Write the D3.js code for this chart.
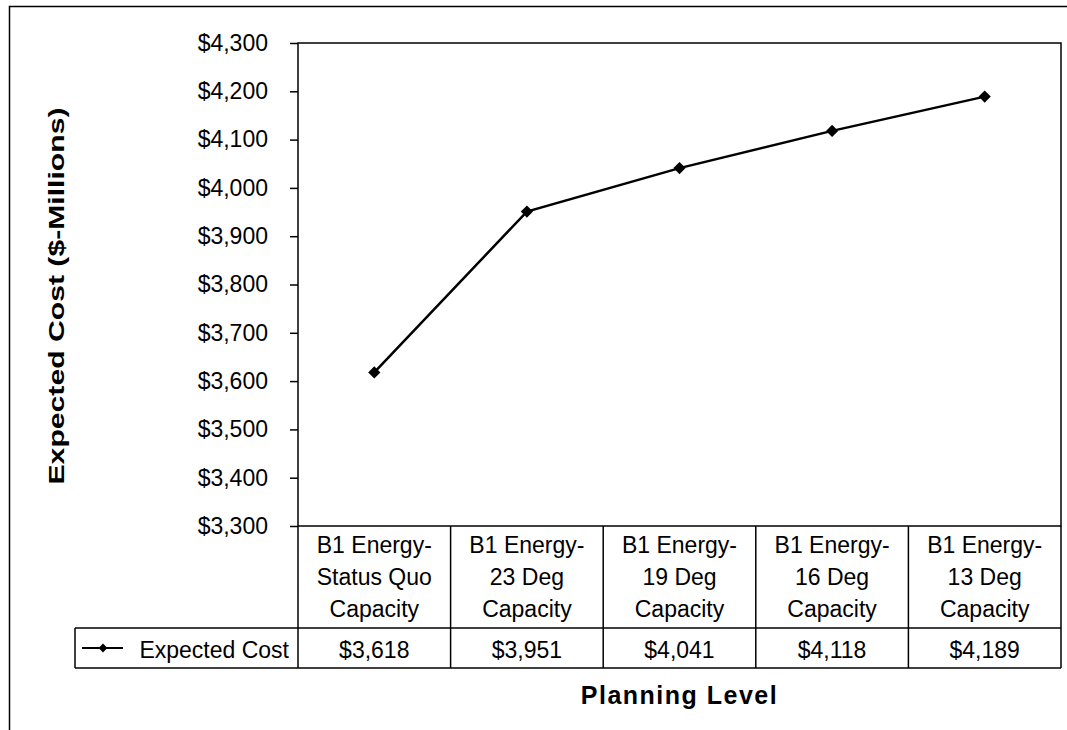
<!DOCTYPE html>
<html>
<head>
<meta charset="utf-8">
<script src="https://cdn.jsdelivr.net/npm/d3@7"></script>
<style>
  body { margin: 0; background: #fff; }
  text { font-family: "Liberation Sans", Arial, sans-serif; fill: #000; }
</style>
</head>
<body>
<script>
// Chart data
const categories = [
  ["B1 Energy-", "Status Quo", "Capacity"],
  ["B1 Energy-", "23 Deg", "Capacity"],
  ["B1 Energy-", "19 Deg", "Capacity"],
  ["B1 Energy-", "16 Deg", "Capacity"],
  ["B1 Energy-", "13 Deg", "Capacity"]
];
const seriesName = "Expected Cost";
const values = [3618, 3951, 4041, 4118, 4189];
const yTicks = [3300, 3400, 3500, 3600, 3700, 3800, 3900, 4000, 4100, 4200, 4300];

const width = 1067, height = 730;
const plotLeft = 298, plotRight = 1061, plotTop = 43, plotBottom = 526;
const catRow = 628, dataRow = 668, legendLeft = 75;
const fs = 23;

const svg = d3.select("body").append("svg")
    .attr("width", width)
    .attr("height", height);

// outer frame (left and top edges visible)
svg.append("path")
    .attr("d", `M9.5,${height} V6.5 H${width}`)
    .attr("fill", "none").attr("stroke", "#000").attr("stroke-width", 1.5);

const x = d3.scaleBand()
    .domain(d3.range(categories.length))
    .range([plotLeft, plotRight]);
const y = d3.scaleLinear()
    .domain([3300, 4300])
    .range([plotBottom, plotTop]);

// plot frame
svg.append("rect")
    .attr("x", plotLeft).attr("y", plotTop)
    .attr("width", plotRight - plotLeft).attr("height", plotBottom - plotTop)
    .attr("fill", "none").attr("stroke", "#000").attr("stroke-width", 1.5);

// y axis
const yAxis = svg.append("g")
    .attr("transform", `translate(${plotLeft},0)`)
    .call(d3.axisLeft(y).tickValues(yTicks).tickSize(8).tickPadding(22)
        .tickFormat(d => "$" + d3.format(",")(d)));
yAxis.select(".domain").remove();
yAxis.selectAll("line").attr("stroke", "#000").attr("stroke-width", 1.5);
yAxis.selectAll("text")
    .attr("font-size", fs)
    .attr("font-family", "'Liberation Sans', Arial, sans-serif")
    .attr("fill", "#000");

// data table: category row and value row
const tbl = svg.append("g").attr("stroke", "#000").attr("stroke-width", 1.5).attr("fill", "none");
tbl.append("line").attr("x1", legendLeft).attr("x2", plotRight).attr("y1", catRow).attr("y2", catRow);
tbl.append("line").attr("x1", legendLeft).attr("x2", plotRight).attr("y1", dataRow).attr("y2", dataRow);
tbl.append("line").attr("x1", legendLeft).attr("x2", legendLeft).attr("y1", catRow).attr("y2", dataRow);
tbl.append("line").attr("x1", plotRight).attr("x2", plotRight).attr("y1", plotBottom).attr("y2", dataRow);
categories.forEach((c, i) => {
  tbl.append("line")
      .attr("x1", x(i)).attr("x2", x(i))
      .attr("y1", plotBottom).attr("y2", dataRow);
});

categories.forEach((c, i) => {
  const t = svg.append("text")
      .attr("text-anchor", "middle")
      .attr("font-size", fs);
  c.forEach((line, j) => {
    t.append("tspan")
        .attr("x", x(i) + x.bandwidth() / 2)
        .attr("y", plotBottom + 27 + j * 32)
        .text(line);
  });
  svg.append("text")
      .attr("x", x(i) + x.bandwidth() / 2)
      .attr("y", dataRow - 10)
      .attr("text-anchor", "middle")
      .attr("font-size", fs)
      .text("$" + d3.format(",")(values[i]));
});

// legend key in the table
const diamond = d3.symbol().type(d3.symbolDiamond2).size(95);
svg.append("line")
    .attr("x1", legendLeft + 7).attr("x2", legendLeft + 48)
    .attr("y1", (catRow + dataRow) / 2).attr("y2", (catRow + dataRow) / 2)
    .attr("stroke", "#000").attr("stroke-width", 2);
svg.append("path")
    .attr("d", d3.symbol().type(d3.symbolDiamond2).size(50))
    .attr("transform", `translate(${legendLeft + 28},${(catRow + dataRow) / 2})`)
    .attr("fill", "#000");
svg.append("text")
    .attr("x", plotLeft - 9).attr("y", dataRow - 10)
    .attr("text-anchor", "end")
    .attr("font-size", fs)
    .text(seriesName);

// series line
const line = d3.line()
    .x((d, i) => x(i) + x.bandwidth() / 2)
    .y(d => y(d));
svg.append("path")
    .datum(values)
    .attr("d", line)
    .attr("fill", "none")
    .attr("stroke", "#000")
    .attr("stroke-width", 2.5);
svg.selectAll(".pt")
    .data(values)
    .join("path")
    .attr("class", "pt")
    .attr("d", diamond)
    .attr("transform", (d, i) => `translate(${x(i) + x.bandwidth() / 2},${y(d)})`)
    .attr("fill", "#000");

// axis titles
svg.append("text")
    .attr("transform", `translate(64,296) rotate(-90)`)
    .attr("text-anchor", "middle")
    .attr("font-size", 22)
    .attr("font-weight", "bold")
    .attr("textLength", 377)
    .attr("lengthAdjust", "spacingAndGlyphs")
    .text("Expected Cost ($-Millions)");
svg.append("text")
    .attr("x", (plotLeft + plotRight) / 2)
    .attr("y", 704)
    .attr("text-anchor", "middle")
    .attr("font-size", 25)
    .attr("font-weight", "bold")
    .attr("letter-spacing", 1.5)
    .text("Planning Level");
</script>
</body>
</html>
